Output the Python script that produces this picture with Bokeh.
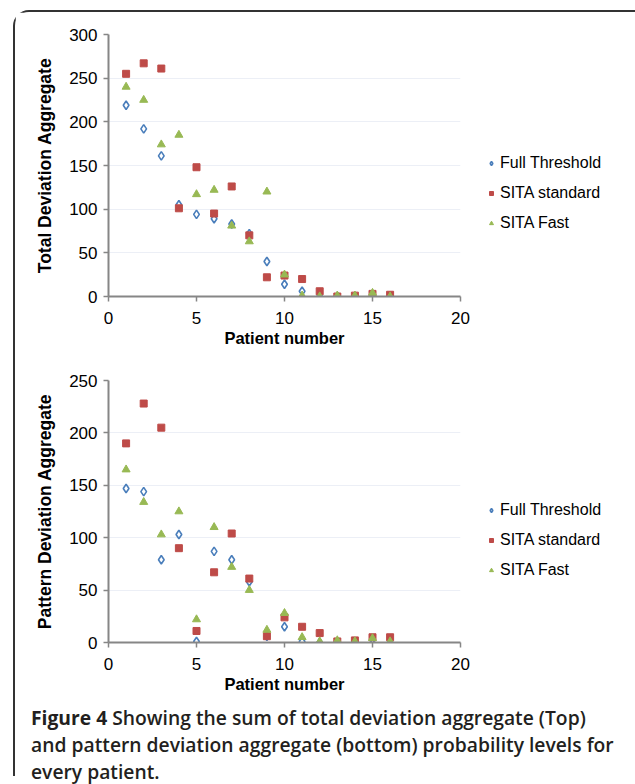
from bokeh.plotting import figure
from bokeh.models import Legend, LegendItem, Div, Range1d, FixedTicker, ColumnDataSource
from bokeh.layouts import column
from bokeh.embed import file_html
from bokeh.resources import INLINE

# ---- data ----
patients = [1, 2, 3, 4, 5, 6, 7, 8, 9, 10, 11, 12, 13, 14, 15, 16]

total_full = [219, 192, 161, 105, 94, 89, 83, 72, 40, 14, 6, 0, 0, 0, -2, 0]
total_std = [255, 267, 261, 101, 148, 95, 126, 70, 22, 24, 20, 6, 0, 1, 3, 2]
total_fast = [240, 225, 174, 185, 117, 122, 81, 63, 120, 25, 1, 0, 1, 1, 4, 0]

pattern_full = [147, 144, 79, 103, 1, 87, 79, 58, 6, 15, 1, 0, 0, 0, -1, 0]
pattern_std = [190, 228, 205, 90, 11, 67, 104, 61, 6, 24, 15, 9, 1, 2, 5, 5]
pattern_fast = [165, 134, 103, 125, 22, 110, 72, 50, 12, 28, 5, 1, 2, 1, 4, 1]

series_names = ["Full Threshold", "SITA standard", "SITA Fast"]
x_ticks = [0, 5, 10, 15, 20]
top_y_ticks = [0, 50, 100, 150, 200, 250, 300]
bottom_y_ticks = [0, 50, 100, 150, 200, 250]

BLUE = "#4a7ebb"
RED = "#be4b48"
GREEN = "#98b954"
AXIS = "#868686"
FONT = "Liberation Sans"


def make_chart(full, std, fast, y_ticks, ylabel, border_top, border_bottom, legend_y):
    p = figure(frame_width=352, frame_height=262,
               min_border_left=93, min_border_right=169,
               min_border_top=border_top, min_border_bottom=border_bottom,
               x_range=Range1d(0, 20), y_range=Range1d(0, y_ticks[-1]),
               output_backend="svg", toolbar_location=None)
    p.outline_line_color = None
    p.background_fill_color = "white"
    p.border_fill_color = "white"

    src = ColumnDataSource(dict(x=patients, full=full, std=std, fast=fast))
    r_full = p.scatter("x", "full", source=src, marker="diamond", size=8.5,
                       fill_color="white", line_color=BLUE, line_width=1.6)
    r_std = p.scatter("x", "std", source=src, marker="square", size=7,
                      fill_color=RED, line_color=RED, line_width=1)
    r_fast = p.scatter("x", "fast", source=src, marker="triangle", size=8,
                       fill_color=GREEN, line_color=GREEN, line_width=1)

    p.xaxis.ticker = FixedTicker(ticks=x_ticks)
    p.yaxis.ticker = FixedTicker(ticks=y_ticks)
    for ax in (p.xaxis, p.yaxis):
        ax.axis_line_color = AXIS
        ax.axis_line_width = 2
        ax.major_tick_line_color = AXIS
        ax.major_tick_line_width = 1.5
        ax.major_tick_out = 5
        ax.major_tick_in = 0
        ax.minor_tick_out = 0
        ax.minor_tick_in = 0
        ax.major_label_text_font = FONT
        ax.major_label_text_font_size = "17px"
        ax.major_label_text_color = "black"
        ax.axis_label_text_font = FONT
        ax.axis_label_text_font_style = "bold"
        ax.axis_label_text_color = "black"
    p.xaxis.axis_label = "Patient number"
    p.xaxis.axis_label_text_font_size = "16.5px"
    p.xaxis.major_label_standoff = 10
    p.xaxis.axis_label_standoff = 2
    p.yaxis.axis_label = ylabel
    p.yaxis.axis_label_text_font_size = "17.5px"
    p.yaxis.major_label_standoff = 6
    p.yaxis.axis_label_standoff = 11

    p.xgrid.visible = False
    p.ygrid.grid_line_color = "#eceff6"
    p.ygrid.grid_line_width = 1

    legend = Legend(items=[LegendItem(label=series_names[0], renderers=[r_full]),
                           LegendItem(label=series_names[1], renderers=[r_std]),
                           LegendItem(label=series_names[2], renderers=[r_fast])],
                    location=(26, legend_y), orientation="vertical",
                    glyph_width=10, glyph_height=10, label_standoff=4,
                    label_height=20, spacing=10, padding=0, margin=0,
                    border_line_color=None, background_fill_alpha=0,
                    label_text_font=FONT, label_text_font_size="16px",
                    label_text_color="black")
    p.add_layout(legend, "right")
    return p


p_top = make_chart(total_full, total_std, total_fast, top_y_ticks,
                   "Total Deviation Aggregate", 22, 56, 63)
p_bot = make_chart(pattern_full, pattern_std, pattern_fast, bottom_y_ticks,
                   "Pattern Deviation Aggregate", 28, 58, 62)

caption = Div(
    text=('<span style="font-weight:700">Figure 4</span> Showing the sum of total deviation aggregate (Top)<br>'
          'and pattern deviation aggregate (bottom) probability levels for<br>'
          'every patient.'),
    width=594, height=72, margin=(4, 0, 0, 16),
    styles={"font-family": "Open Sans", "font-size": "19.3px", "font-weight": "600",
            "line-height": "27px", "color": "#231f20", "white-space": "nowrap"})

layout = column(p_top, p_bot, caption, margin=(10, 0, 0, 13),
                styles={"border-top": "2px solid #333", "border-left": "2px solid #333",
                        "border-right": "2px solid #333",
                        "border-top-left-radius": "16px", "border-top-right-radius": "16px",
                        "background-color": "white"})

open("out.html", "w").write(file_html(layout, INLINE))
